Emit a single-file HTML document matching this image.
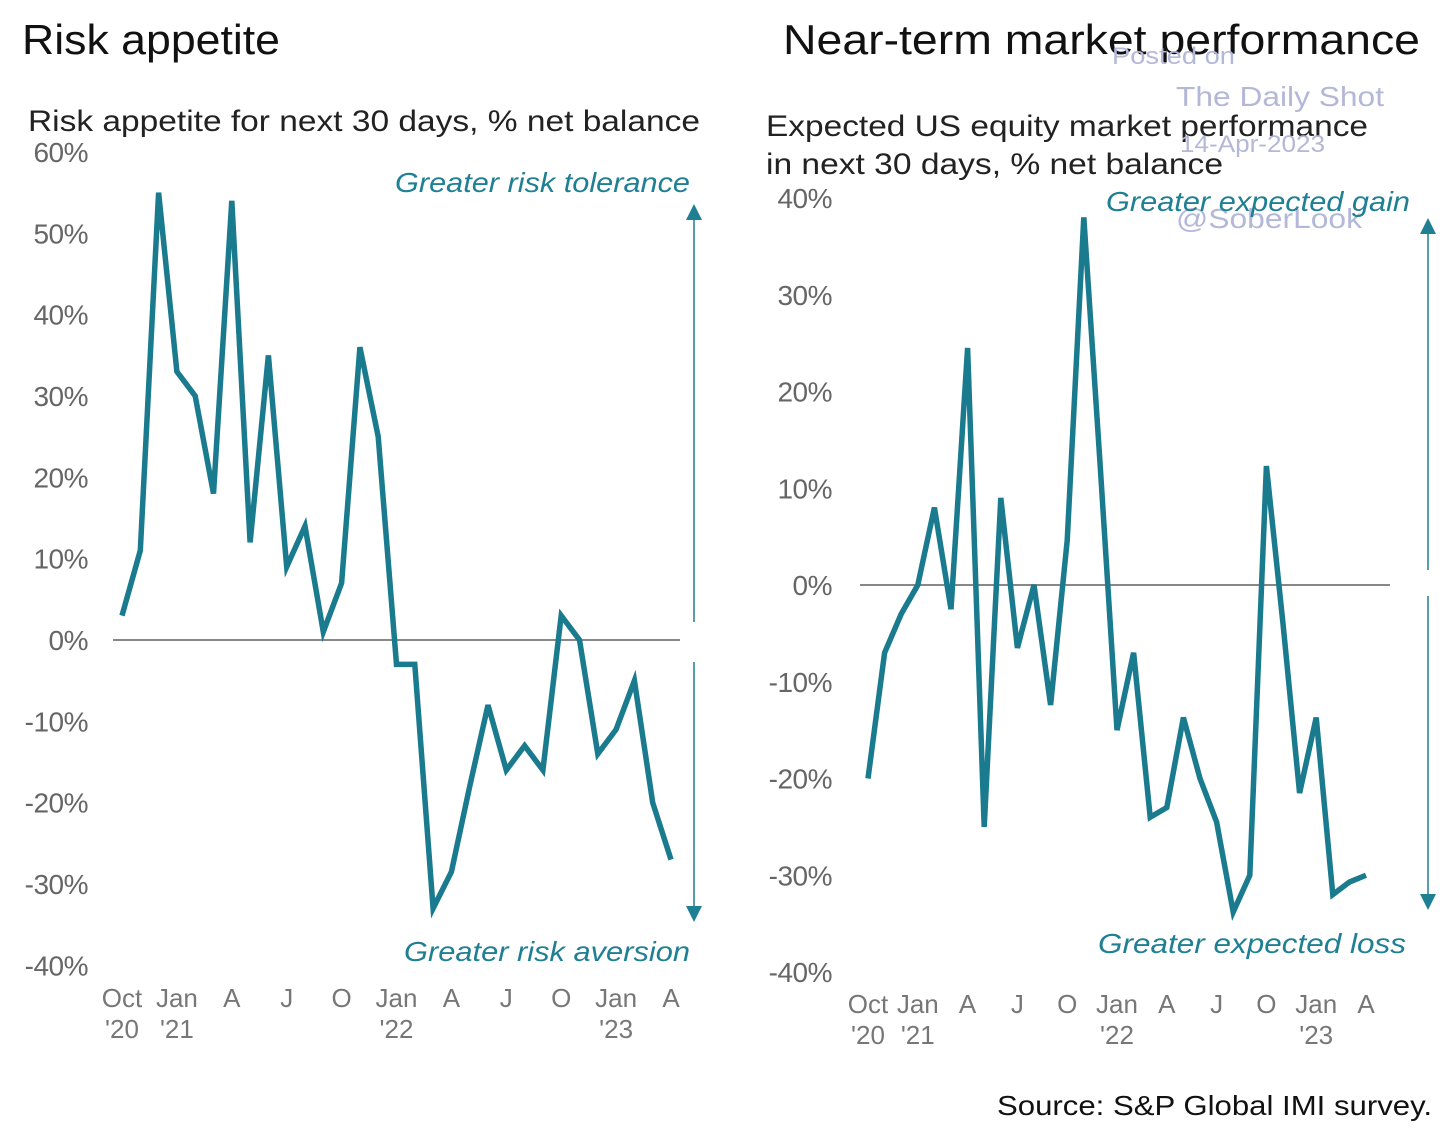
<!DOCTYPE html>
<html><head><meta charset="utf-8"><style>
body{margin:0;background:#fff;width:1456px;height:1138px;overflow:hidden;font-family:"Liberation Sans",sans-serif}
</style></head><body>
<svg id="c" width="1456" height="1138" xmlns="http://www.w3.org/2000/svg" style="font-family:'Liberation Sans',sans-serif">
<text x="22" y="54" font-size="42" fill="#111" textLength="258" lengthAdjust="spacingAndGlyphs">Risk appetite</text>
<text x="783" y="54" font-size="42" fill="#111" textLength="637" lengthAdjust="spacingAndGlyphs">Near-term market performance</text>
<text x="28" y="131" font-size="30" fill="#222" textLength="672" lengthAdjust="spacingAndGlyphs">Risk appetite for next 30 days, % net balance</text>
<text x="766" y="136" font-size="30" fill="#222" textLength="602" lengthAdjust="spacingAndGlyphs">Expected US equity market performance</text>
<text x="766" y="174" font-size="30" fill="#222" textLength="457" lengthAdjust="spacingAndGlyphs">in next 30 days, % net balance</text>
<g fill="#b4b8d8" font-size="28">
<text x="1112" y="64" font-size="24" textLength="123" lengthAdjust="spacingAndGlyphs">Posted on</text>
<text x="1176" y="106" textLength="208" lengthAdjust="spacingAndGlyphs">The Daily Shot</text>
<text x="1180" y="152" font-size="24" textLength="145" lengthAdjust="spacingAndGlyphs">14-Apr-2023</text>
<text x="1176" y="228" textLength="186" lengthAdjust="spacingAndGlyphs">@SoberLook</text>
</g>
<g fill="#1f7f93" font-style="italic" font-size="28">
<text x="395" y="192" textLength="295" lengthAdjust="spacingAndGlyphs">Greater risk tolerance</text>
<text x="404" y="961" textLength="286" lengthAdjust="spacingAndGlyphs">Greater risk aversion</text>
<text x="1106" y="211" textLength="304" lengthAdjust="spacingAndGlyphs">Greater expected gain</text>
<text x="1098" y="953" textLength="308" lengthAdjust="spacingAndGlyphs">Greater  expected loss</text>
</g>
<text x="997" y="1115" font-size="28" fill="#111" textLength="435" lengthAdjust="spacingAndGlyphs">Source: S&amp;P Global IMI survey.</text>
<g id="L"></g><g id="R"></g>
</svg>
<script>
const leftTicks=[60,50,40,30,20,10,0,-10,-20,-30,-40];
const rightTicks=[40,30,20,10,0,-10,-20,-30,-40];
const leftValues=[3,11,55,33,30,18,54,12,35,9,14,1,7,36,25,-3,-3,-33,-28.5,-18,-8,-16,-13,-16,3,0,-14,-11,-5,-20,-27];
const rightValues=[-20,-7,-3,0,8,-2.5,24.5,-25,9,-6.5,0,-12.4,4.6,38,12,-15,-7,-24,-23,-13.7,-20,-24.5,-33.8,-30,12.3,-4,-21.5,-13.7,-32,-30.7,-30];
const xLabels=[["Oct","'20"],["Jan","'21"],["A",""],["J",""],["O",""],["Jan","'22"],["A",""],["J",""],["O",""],["Jan","'23"],["A",""]];
const xLabelIdx=[0,3,6,9,12,15,18,21,24,27,30];
const NS="http://www.w3.org/2000/svg";
function mk(p,t,a){const e=document.createElementNS(NS,t);for(const k in a)e.setAttribute(k,a[k]);p.appendChild(e);return e;}
function panel(g,vals,ticks,o){
 const y=v=>o.y0+(o.yTop-o.y0)*(v/o.vTop);
 const x=i=>o.x0+i*o.dx;
 ticks.forEach(t=>{const e=mk(g,'text',{x:o.tx,y:y(t)+10,'text-anchor':'end','font-size':28,fill:'#666','letter-spacing':'-0.5'});e.textContent=t+'%';
  
  });
 const z=mk(g,'line',{x1:o.zx1,x2:o.zx2,y1:y(0),y2:y(0),stroke:'#888','stroke-width':2});
 
 
 xLabelIdx.forEach((idx,k)=>{const l=xLabels[k];
  const e=mk(g,'text',{x:x(idx),y:o.xy,'text-anchor':'middle','font-size':26,fill:'#777'});e.textContent=l[0];
  
  
  if(l[1]){const f=mk(g,'text',{x:x(idx),y:o.xy+31,'text-anchor':'middle','font-size':26,fill:'#777'});f.textContent=l[1];
   
   }});
 const p=mk(g,'polyline',{points:vals.map((v,i)=>x(i)+','+y(v)).join(' '),fill:'none',stroke:'#1a7a8e','stroke-width':5.5,'stroke-linejoin':'miter'});
 
 
 const a1=mk(g,'line',{x1:o.ax,x2:o.ax,y1:o.aTop+12,y2:o.gap1,stroke:'#1f7f93','stroke-width':1.5});
 
 
 const a2=mk(g,'line',{x1:o.ax,x2:o.ax,y1:o.gap2,y2:o.aBot-12,stroke:'#1f7f93','stroke-width':1.5});
 
 
 const h1=mk(g,'polygon',{points:`${o.ax},${o.aTop} ${o.ax-8},${o.aTop+16} ${o.ax+8},${o.aTop+16}`,fill:'#1f7f93'});
 
 
 const h2=mk(g,'polygon',{points:`${o.ax},${o.aBot} ${o.ax-8},${o.aBot-16} ${o.ax+8},${o.aBot-16}`,fill:'#1f7f93'});
 
 
}
const L=document.getElementById('L');


const R=document.getElementById('R');


panel(L,leftValues,leftTicks,{y0:640,yTop:152,vTop:60,x0:122,dx:18.3,tx:88,zx1:113,zx2:680,xy:1007,ax:694,aTop:204,aBot:922,gap1:622,gap2:662});
panel(R,rightValues,rightTicks,{y0:585,yTop:198,vTop:40,x0:868,dx:16.6,tx:832,zx1:860,zx2:1390,xy:1013,ax:1428,aTop:218,aBot:910,gap1:570,gap2:596});
</script>
</body></html>
